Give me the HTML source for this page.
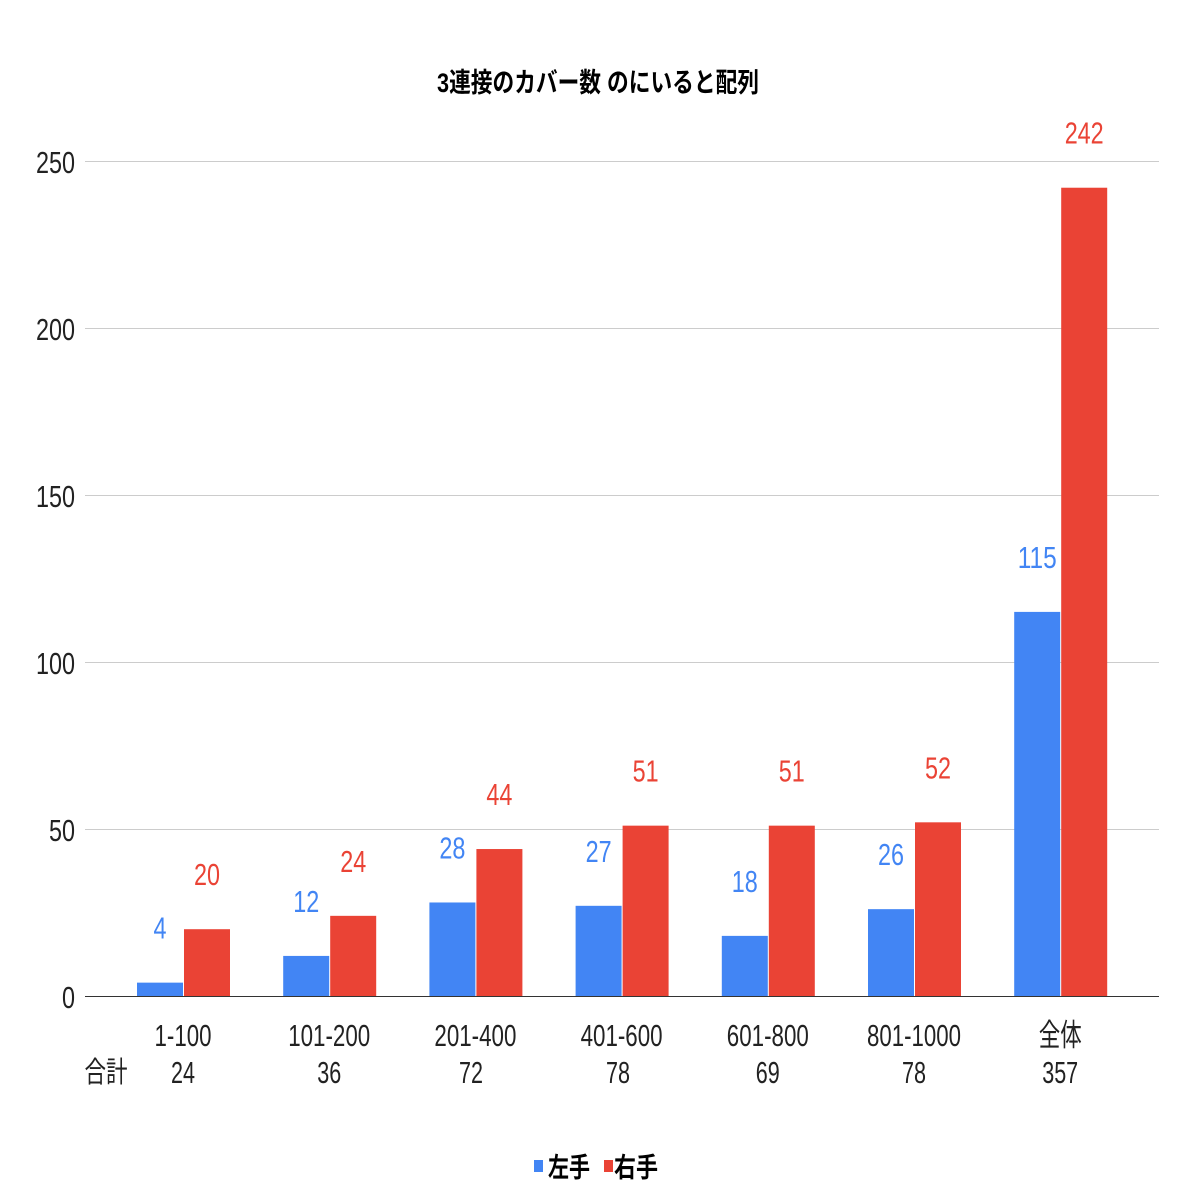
<!DOCTYPE html>
<html><head><meta charset="utf-8"><style>
body{margin:0;background:#fff}
text{font-family:"Liberation Sans","Noto Sans CJK JP",sans-serif}
</style></head><body>
<svg width="1196" height="1196" viewBox="0 0 1196 1196" xmlns="http://www.w3.org/2000/svg">
<rect width="1196" height="1196" fill="#fff"/>
<text x="598" y="92" font-size="27" font-weight="bold" text-anchor="middle" textLength="322" lengthAdjust="spacingAndGlyphs">3連接のカバー数 のにいると配列</text>
<g stroke="#ccc" stroke-width="1">
<line x1="85" x2="1159" y1="161.5" y2="161.5"/>
<line x1="85" x2="1159" y1="328.5" y2="328.5"/>
<line x1="85" x2="1159" y1="495.5" y2="495.5"/>
<line x1="85" x2="1159" y1="662.5" y2="662.5"/>
<line x1="85" x2="1159" y1="829.5" y2="829.5"/>
</g>
<g font-size="31" fill="#222" text-anchor="end">
<text x="75" y="173" textLength="39" lengthAdjust="spacingAndGlyphs">250</text>
<text x="75" y="340" textLength="39" lengthAdjust="spacingAndGlyphs">200</text>
<text x="75" y="507" textLength="39" lengthAdjust="spacingAndGlyphs">150</text>
<text x="75" y="674" textLength="39" lengthAdjust="spacingAndGlyphs">100</text>
<text x="75" y="841" textLength="26" lengthAdjust="spacingAndGlyphs">50</text>
<text x="75" y="1008" textLength="13" lengthAdjust="spacingAndGlyphs">0</text>
</g>
<g fill="#4285f4">
<rect x="137" y="982.64" width="46" height="13.36"/>
<rect x="283.2" y="955.92" width="46" height="40.08"/>
<rect x="429.4" y="902.48" width="46" height="93.52"/>
<rect x="575.6" y="905.82" width="46" height="90.18"/>
<rect x="721.8" y="935.88" width="46" height="60.12"/>
<rect x="868" y="909.16" width="46" height="86.84"/>
<rect x="1014.2" y="611.9" width="46" height="384.1"/>
</g>
<g fill="#ea4335">
<rect x="184" y="929.2" width="46" height="66.8"/>
<rect x="330.2" y="915.84" width="46" height="80.16"/>
<rect x="476.4" y="849.04" width="46" height="146.96"/>
<rect x="622.6" y="825.66" width="46" height="170.34"/>
<rect x="768.8" y="825.66" width="46" height="170.34"/>
<rect x="915" y="822.32" width="46" height="173.68"/>
<rect x="1061.2" y="187.72" width="46" height="808.28"/>
</g>
<g font-size="31" fill="#4285f4" text-anchor="middle">
<text x="160" y="938.6" textLength="13" lengthAdjust="spacingAndGlyphs">4</text>
<text x="306.2" y="911.9" textLength="26" lengthAdjust="spacingAndGlyphs">12</text>
<text x="452.4" y="858.5" textLength="26" lengthAdjust="spacingAndGlyphs">28</text>
<text x="598.6" y="861.8" textLength="26" lengthAdjust="spacingAndGlyphs">27</text>
<text x="744.8" y="891.9" textLength="26" lengthAdjust="spacingAndGlyphs">18</text>
<text x="891" y="865.2" textLength="26" lengthAdjust="spacingAndGlyphs">26</text>
<text x="1037.2" y="567.9" textLength="39" lengthAdjust="spacingAndGlyphs">115</text>
</g>
<g font-size="31" fill="#ea4335" text-anchor="middle">
<text x="207" y="885.2" textLength="26" lengthAdjust="spacingAndGlyphs">20</text>
<text x="353.2" y="871.8" textLength="26" lengthAdjust="spacingAndGlyphs">24</text>
<text x="499.4" y="805" textLength="26" lengthAdjust="spacingAndGlyphs">44</text>
<text x="645.6" y="781.7" textLength="26" lengthAdjust="spacingAndGlyphs">51</text>
<text x="791.8" y="781.7" textLength="26" lengthAdjust="spacingAndGlyphs">51</text>
<text x="938" y="778.3" textLength="26" lengthAdjust="spacingAndGlyphs">52</text>
<text x="1084.2" y="143.7" textLength="39" lengthAdjust="spacingAndGlyphs">242</text>
</g>
<line x1="85" x2="1159" y1="996.5" y2="996.5" stroke="#333" stroke-width="1"/>
<g font-size="31" fill="#222" text-anchor="middle">
<text x="183" y="1046" textLength="57" lengthAdjust="spacingAndGlyphs">1-100</text>
<text x="329.2" y="1046" textLength="82" lengthAdjust="spacingAndGlyphs">101-200</text>
<text x="475.4" y="1046" textLength="82" lengthAdjust="spacingAndGlyphs">201-400</text>
<text x="621.6" y="1046" textLength="82" lengthAdjust="spacingAndGlyphs">401-600</text>
<text x="767.8" y="1046" textLength="82" lengthAdjust="spacingAndGlyphs">601-800</text>
<text x="914" y="1046" textLength="94" lengthAdjust="spacingAndGlyphs">801-1000</text>
<text x="1060.2" y="1046" textLength="43" lengthAdjust="spacingAndGlyphs">全体</text>
<text x="183" y="1083" textLength="24" lengthAdjust="spacingAndGlyphs">24</text>
<text x="329.2" y="1083" textLength="24" lengthAdjust="spacingAndGlyphs">36</text>
<text x="471" y="1083" textLength="24" lengthAdjust="spacingAndGlyphs">72</text>
<text x="618" y="1083" textLength="24" lengthAdjust="spacingAndGlyphs">78</text>
<text x="767.8" y="1083" textLength="24" lengthAdjust="spacingAndGlyphs">69</text>
<text x="914" y="1083" textLength="24" lengthAdjust="spacingAndGlyphs">78</text>
<text x="1060.2" y="1083" textLength="36" lengthAdjust="spacingAndGlyphs">357</text>
</g>
<text x="106" y="1082" font-size="29" fill="#222" text-anchor="middle" textLength="43" lengthAdjust="spacingAndGlyphs">合計</text>
<g font-weight="bold">
<rect x="534" y="1160" width="9" height="12" fill="#4285f4"/>
<text x="548" y="1177" font-size="27" textLength="42" lengthAdjust="spacingAndGlyphs">左手</text>
<rect x="604" y="1160" width="9" height="12" fill="#ea4335"/>
<text x="614" y="1177" font-size="27" textLength="44" lengthAdjust="spacingAndGlyphs">右手</text>
</g>
</svg>
</body></html>
